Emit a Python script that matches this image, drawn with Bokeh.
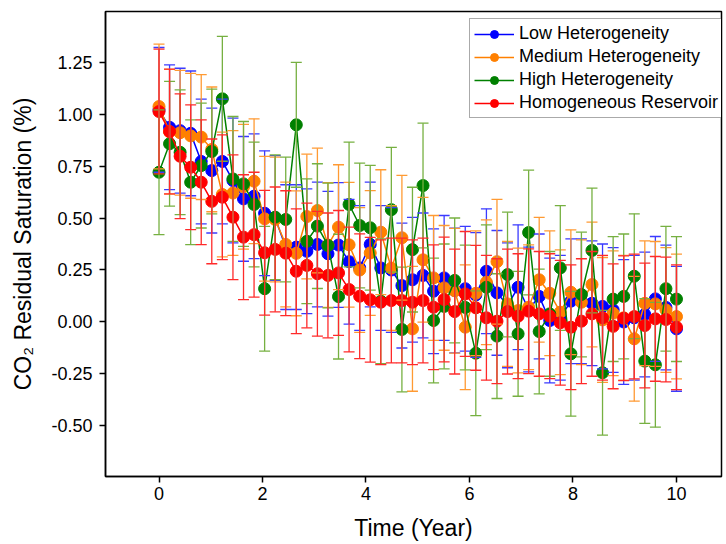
from bokeh.plotting import figure
from bokeh.models import (ColumnDataSource, Whisker, TeeHead, FixedTicker,
                          PrintfTickFormatter, Legend, LegendItem, Range1d)
from bokeh.embed import file_html
from bokeh.resources import INLINE

TIME = [0.000, 0.204, 0.408, 0.612, 0.816, 1.020, 1.224, 1.429, 1.633, 1.837,
        2.041, 2.245, 2.449, 2.653, 2.857, 3.061, 3.265, 3.469, 3.673, 3.878,
        4.082, 4.286, 4.490, 4.694, 4.898, 5.102, 5.306, 5.510, 5.714, 5.918,
        6.122, 6.327, 6.531, 6.735, 6.939, 7.143, 7.347, 7.551, 7.755, 7.959,
        8.163, 8.367, 8.571, 8.776, 8.980, 9.184, 9.388, 9.592, 9.796, 10.000]

LOW = [1.02, 0.936, 0.92, 0.907, 0.772, 0.728, 0.772, 0.68, 0.592, 0.605,
       0.523, 0.50, 0.36, 0.36, 0.34, 0.373, 0.328, 0.37, 0.29, 0.26,
       0.373, 0.26, 0.25, 0.175, 0.203, 0.224, 0.148, 0.212, 0.151, 0.16,
       0.13, 0.244, 0.14, 0.08, 0.167, 0.06, 0.123, 0.007, 0.02, 0.10,
       0.10, 0.09, 0.075, 0.058, 0.0, 0.02, 0.036, 0.111, 0.07, -0.033]
MEDIUM = [1.036, 0.915, 0.91, 0.895, 0.889, 0.83, 0.613, 0.62, 0.65, 0.677,
          0.496, 0.493, 0.373, 0.33, 0.507, 0.536, 0.37, 0.456, 0.371, 0.25,
          0.332, 0.432, 0.259, 0.405, -0.033, 0.299, 0.212, 0.164, 0.15, -0.025,
          0.138, 0.191, 0.29, 0.087, 0.055, 0.071, 0.203, 0.138, 0.047, 0.143,
          0.095, 0.18, 0.01, 0.042, 0.02, -0.081, 0.09, 0.087, 0.058, 0.026]
HIGH = [0.72, 0.857, 0.816, 0.672, 0.752, 0.82, 1.073, 0.688, 0.664, 0.565,
        0.16, 0.504, 0.493, 0.948, 0.388, 0.461, 0.368, 0.122, 0.565, 0.464,
        0.453, 0.10, 0.54, -0.036, 0.348, 0.656, 0.007, 0.075, 0.20, 0.07,
        -0.15, 0.167, -0.068, 0.228, -0.057, 0.43, -0.046, 0.039, 0.26, -0.153,
        0.132, 0.344, -0.244, 0.11, 0.123, 0.22, -0.188, -0.206, 0.16, 0.11]
HOMOG = [1.012, 0.916, 0.797, 0.744, 0.672, 0.58, 0.60, 0.504, 0.408, 0.42,
         0.333, 0.349, 0.331, 0.244, 0.272, 0.232, 0.224, 0.236, 0.156, 0.124,
         0.107, 0.095, 0.103, 0.103, 0.095, 0.103, 0.071, 0.108, 0.05, 0.135,
         0.068, 0.02, 0.004, 0.05, 0.028, 0.052, 0.039, 0.028, -0.004, -0.025,
         0.004, 0.039, 0.02, -0.021, 0.018, 0.026, -0.017, 0.015, 0.012, -0.025]

ERR_LOW = [0.30, 0.30, 0.30, 0.30, 0.30, 0.30, 0.30, 0.30, 0.30, 0.30,
           0.30, 0.30, 0.30, 0.30, 0.30, 0.30, 0.30, 0.30, 0.30, 0.30,
           0.30, 0.30, 0.30, 0.30, 0.30, 0.30, 0.30, 0.30, 0.30, 0.30,
           0.30, 0.30, 0.30, 0.30, 0.30, 0.30, 0.30, 0.30, 0.30, 0.30,
           0.30, 0.30, 0.30, 0.30, 0.30, 0.30, 0.30, 0.30, 0.30, 0.30]
ERR_MEDIUM = [0.30, 0.30, 0.30, 0.30, 0.30, 0.30, 0.30, 0.30, 0.30, 0.30,
              0.30, 0.30, 0.30, 0.30, 0.30, 0.30, 0.30, 0.30, 0.30, 0.30,
              0.30, 0.30, 0.30, 0.30, 0.30, 0.30, 0.30, 0.30, 0.30, 0.30,
              0.30, 0.30, 0.30, 0.30, 0.30, 0.30, 0.30, 0.30, 0.30, 0.30,
              0.30, 0.30, 0.30, 0.30, 0.30, 0.30, 0.30, 0.30, 0.30, 0.30]
ERR_HIGH = [0.30, 0.30, 0.30, 0.30, 0.30, 0.30, 0.30, 0.30, 0.30, 0.30,
            0.30, 0.30, 0.30, 0.30, 0.30, 0.30, 0.30, 0.30, 0.30, 0.30,
            0.30, 0.30, 0.30, 0.30, 0.30, 0.30, 0.30, 0.30, 0.30, 0.30,
            0.30, 0.30, 0.30, 0.30, 0.30, 0.30, 0.30, 0.30, 0.30, 0.30,
            0.30, 0.30, 0.30, 0.30, 0.30, 0.30, 0.30, 0.30, 0.30, 0.30]
ERR_HOMOG = [0.30, 0.30, 0.30, 0.30, 0.30, 0.30, 0.30, 0.30, 0.30, 0.30,
             0.30, 0.30, 0.30, 0.30, 0.30, 0.30, 0.30, 0.30, 0.30, 0.30,
             0.30, 0.30, 0.30, 0.30, 0.30, 0.30, 0.30, 0.30, 0.30, 0.30,
             0.30, 0.30, 0.30, 0.30, 0.30, 0.30, 0.30, 0.30, 0.30, 0.30,
             0.30, 0.30, 0.30, 0.30, 0.30, 0.30, 0.30, 0.30, 0.30, 0.30]

LABELS = ["Low Heterogeneity", "Medium Heterogeneity", "High Heterogeneity",
          "Homogeneous Reservoir"]
X_TICKS = [0, 2, 4, 6, 8, 10]
Y_TICKS = [-0.50, -0.25, 0.00, 0.25, 0.50, 0.75, 1.00, 1.25]

FONT = "Liberation Sans"

p = figure(width=726, height=544, output_backend="svg", toolbar_location=None,
           x_range=Range1d(-1.034, 10.87), y_range=Range1d(-0.743, 1.493),
           min_border_left=105, min_border_right=5, min_border_top=11,
           min_border_bottom=68)
p.grid.visible = False
p.outline_line_color = "black"
p.outline_line_width = 1.5
p.background_fill_color = "white"
p.border_fill_color = "white"

for ax in (p.xaxis[0], p.yaxis[0]):
    ax.axis_line_color = "black"
    ax.axis_line_width = 1.5
    ax.major_tick_line_color = "black"
    ax.major_tick_line_width = 1.5
    ax.major_tick_out = 6
    ax.major_tick_in = 0
    ax.minor_tick_line_color = None
    ax.major_label_text_font = FONT
    ax.major_label_text_font_size = "18px"
    ax.major_label_text_color = "black"
    ax.axis_label_text_font = FONT
    ax.axis_label_text_font_size = "23px"
    ax.axis_label_text_font_style = "normal"
    ax.axis_label_text_color = "black"

p.xaxis.ticker = FixedTicker(ticks=X_TICKS)
p.yaxis.ticker = FixedTicker(ticks=Y_TICKS)
p.yaxis.formatter = PrintfTickFormatter(format="%.2f")
p.xaxis.axis_label = "Time (Year)"
p.yaxis.axis_label = "CO\u2082 Residual Saturation (%)"
p.xaxis.major_label_standoff = 4
p.yaxis.major_label_standoff = 7
p.xaxis.axis_label_standoff = 12
p.yaxis.axis_label_standoff = 12

series = [
    (LABELS[0], LOW, ERR_LOW, "#0000ff", "#3a3aff"),
    (LABELS[1], MEDIUM, ERR_MEDIUM, "#ff8000", "#ff9a33"),
    (LABELS[2], HIGH, ERR_HIGH, "#008000", "#76b041"),
    (LABELS[3], HOMOG, ERR_HOMOG, "#ff0000", "#ff2a2a"),
]

items = []
for name, vals, errs, color, ecolor in series:
    src = ColumnDataSource(dict(
        x=TIME, y=vals,
        upper=[v + e for v, e in zip(vals, errs)],
        lower=[v - e for v, e in zip(vals, errs)],
    ))
    w = Whisker(source=src, base="x", upper="upper", lower="lower",
                dimension="height", line_color=ecolor, line_width=1.3,
                level="glyph",
                upper_head=TeeHead(size=11, line_color=ecolor, line_width=1.3),
                lower_head=TeeHead(size=11, line_color=ecolor, line_width=1.3))
    p.add_layout(w)
    rl = p.line("x", "y", source=src, line_color=color, line_width=1.5)
    rs = p.scatter("x", "y", source=src, size=12, fill_color=color,
                   line_color=color)
    items.append(LegendItem(label=name, renderers=[rl, rs]))

legend = Legend(items=items, location=(364, 358))
legend.label_text_font = FONT
legend.label_text_font_size = "18px"
legend.label_text_color = "black"
legend.glyph_width = 40
legend.glyph_height = 20
legend.label_standoff = 5
legend.padding = 4
legend.spacing = 2
legend.margin = 0
legend.border_line_color = "#555555"
legend.border_line_width = 1.5
legend.background_fill_color = "white"
legend.background_fill_alpha = 1.0
p.add_layout(legend)

open("out.html", "w").write(file_html(p, INLINE))
